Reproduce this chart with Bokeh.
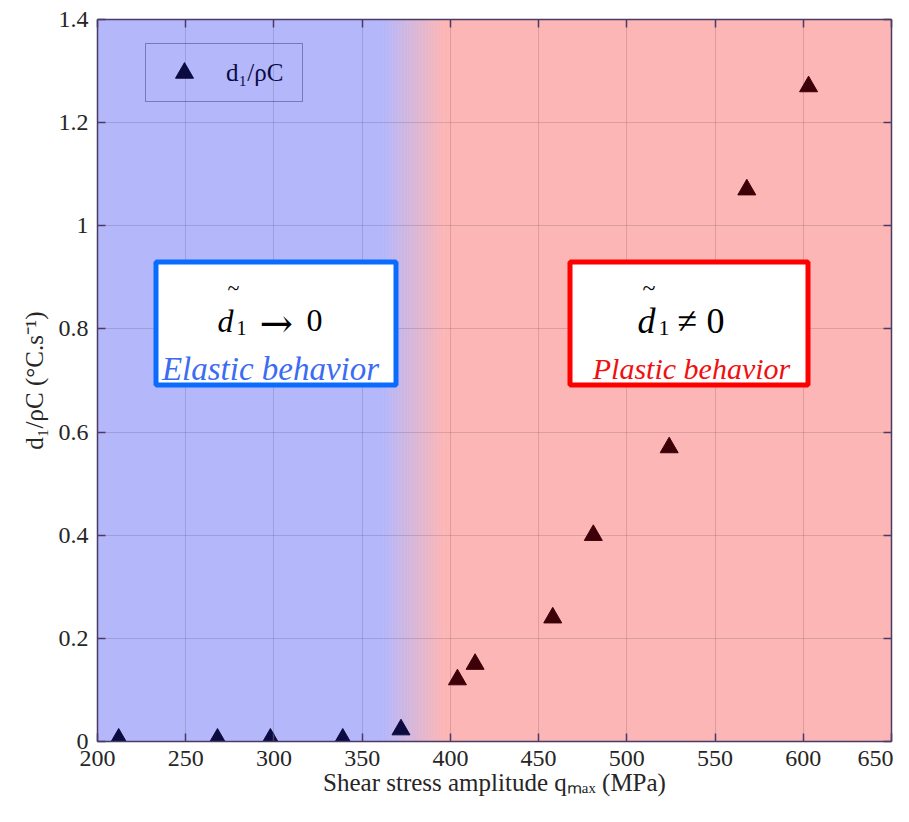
import numpy as np
from bokeh.plotting import figure
from bokeh.models import (Range1d, FixedTicker, LinearAxis, NumeralTickFormatter, Label,
                          BoxAnnotation, Legend, LegendItem, ColumnDataSource)
from bokeh.embed import file_html
from bokeh.resources import INLINE

# ---------------- data ----------------
stress_amplitude = [212, 268, 298, 339, 372, 404, 414, 458, 481, 524, 568, 603]
d1_rhoC = [0.005, 0.005, 0.005, 0.005, 0.023, 0.12, 0.15, 0.24, 0.40, 0.57, 1.07, 1.27]
x_ticks = [200, 250, 300, 350, 400, 450, 500, 550, 600, 650]
y_ticks = [0, 0.2, 0.4, 0.6, 0.8, 1.0, 1.2, 1.4]
series_label = "d\u2081/\u03c1C"
x_title = "Shear stress amplitude q\u2098\u2090\u2093 (MPa)"
y_title = "d\u2081/\u03c1C (\u00b0C.s\u207b\u00b9)"
elastic_text = "Elastic behavior"
plastic_text = "Plastic behavior"

X_RANGE = (200, 650)
Y_RANGE = (0, 1.4)
TRANSITION = (362, 396)   # background colour transition zone

# ---------------- styling ----------------
FONT = "Liberation Serif"
BLUE_BG = (180, 183, 250)
PINK_BG = (252, 182, 182)
NAVY = "#0b0b42"
MAROON = "#3d0008"
AXIS_COL = "#4a3b66"

# reference pixel -> data helpers (annotation layout only)
def dx(px):
    return X_RANGE[0] + (px - 97) * (X_RANGE[1] - X_RANGE[0]) / 794.0

def dy(py):
    return Y_RANGE[1] - (py - 19) * (Y_RANGE[1] - Y_RANGE[0]) / 722.0

p = figure(width=893, height=806, output_backend="svg", toolbar_location=None,
           x_range=Range1d(*X_RANGE), y_range=Range1d(*Y_RANGE),
           min_border_left=97, min_border_right=2, min_border_top=19, min_border_bottom=65,
           background_fill_color="white", border_fill_color="white")
p.outline_line_color = None

# background (blue -> pink gradient)
def hexcol(c):
    return "#%02x%02x%02x" % tuple(int(round(v)) for v in c)

n = 40
edges = np.linspace(TRANSITION[0], TRANSITION[1], n + 1)
lefts = [X_RANGE[0]] + list(edges[:-1]) + [TRANSITION[1]]
rights = [TRANSITION[0] + 0.3] + list(edges[1:] + 0.3) + [X_RANGE[1]]
cols = [hexcol(BLUE_BG)]
for i in range(n):
    t = (i + 0.5) / n
    cols.append(hexcol([BLUE_BG[k] * (1 - t) + PINK_BG[k] * t for k in range(3)]))
cols.append(hexcol(PINK_BG))
p.quad(left=lefts, right=rights, bottom=Y_RANGE[0], top=Y_RANGE[1],
       fill_color=cols, line_color=None, level="image")

# grid
p.xgrid.ticker = FixedTicker(ticks=x_ticks)
p.ygrid.ticker = FixedTicker(ticks=y_ticks)
for g in (p.xgrid, p.ygrid):
    g.grid_line_color = "black"
    g.grid_line_alpha = 0.13
    g.grid_line_width = 1

# axes
p.xaxis.ticker = FixedTicker(ticks=x_ticks)
p.yaxis.ticker = FixedTicker(ticks=y_ticks)
p.yaxis.formatter = NumeralTickFormatter(format="0.[0]")
p.xaxis.axis_label = x_title
p.yaxis.axis_label = y_title

def style_axis(ax, labels=True):
    ax.axis_line_color = AXIS_COL
    ax.axis_line_width = 1.5
    ax.major_tick_line_color = AXIS_COL
    ax.major_tick_line_width = 1.5
    ax.major_tick_in = 8
    ax.major_tick_out = 0
    ax.minor_tick_line_color = None
    ax.major_label_text_font = FONT
    ax.major_label_text_font_size = "24px" if labels else "0px"
    ax.major_label_text_color = "#262626" if labels else None
    ax.axis_label_text_font = FONT
    ax.axis_label_text_font_size = "25px"
    ax.axis_label_text_font_style = "normal"
    ax.axis_label_text_color = "#262626"

style_axis(p.xaxis[0])
style_axis(p.yaxis[0])
p.xaxis.major_label_standoff = 9
p.xaxis.axis_label_standoff = 0
p.yaxis.major_label_standoff = 9
p.yaxis.axis_label_standoff = 8

top_ax = LinearAxis(ticker=FixedTicker(ticks=x_ticks), major_label_standoff=0)
right_ax = LinearAxis(ticker=FixedTicker(ticks=y_ticks), major_label_standoff=0)
style_axis(top_ax, labels=False)
style_axis(right_ax, labels=False)
p.add_layout(top_ax, "above")
p.add_layout(right_ax, "right")

# data points
split = (TRANSITION[0] + TRANSITION[1]) / 2
src = ColumnDataSource(dict(x=stress_amplitude, y=d1_rhoC,
                            c=[NAVY if v < split else MAROON for v in stress_amplitude]))
r = p.scatter("x", "y", source=src, marker="triangle", size=18,
              fill_color="c", line_color="c")

legend = Legend(items=[LegendItem(label=series_label, renderers=[r], index=0)],
                location=(48, 639), padding=6, margin=0, glyph_width=64, glyph_height=45,
                label_standoff=10, label_width=70,
                label_text_font=FONT, label_text_font_size="25px", label_text_color=NAVY,
                border_line_color="#3c3c70", border_line_width=1.5,
                background_fill_alpha=0)
p.add_layout(legend)

# annotation boxes
p.add_layout(BoxAnnotation(left=dx(155.5), right=dx(395.5), top=dy(261.5), bottom=dy(384.5),
                           fill_color="white", fill_alpha=1, line_color="#0a6cff",
                           line_width=5, line_alpha=1))
p.add_layout(BoxAnnotation(left=dx(569.5), right=dx(807.5), top=dy(261.5), bottom=dy(384.5),
                           fill_color="white", fill_alpha=1, line_color="#ff0000",
                           line_width=5, line_alpha=1))

def lab(text, px, py, size, color="black", style="normal", align="left", font=FONT):
    p.add_layout(Label(x=dx(px), y=dy(py), text=text, text_font=font,
                       text_font_size="%dpx" % size, text_color=color,
                       text_font_style=style, text_align=align,
                       text_baseline="alphabetic"))

# elastic equation
lab("~", 227, 287, 22)
lab("d", 217, 320, 32, style="italic")
lab("1", 236, 327, 20)
lab("\u2192", 259, 322, 40, font="DejaVu Serif")
lab("0", 306, 320, 32)
lab(elastic_text, 270, 368, 33, color="#3b6cf2", style="italic", align="center")

# plastic equation
lab("~", 642, 287, 24)
lab("d", 637, 320, 36, style="italic")
lab("1", 658, 327, 22)
lab("\u2260", 677, 320, 36)
lab("0", 706, 320, 36)
lab(plastic_text, 691, 368, 30, color="#f01010", style="italic", align="center")

open("out.html", "w").write(file_html(p, INLINE))
